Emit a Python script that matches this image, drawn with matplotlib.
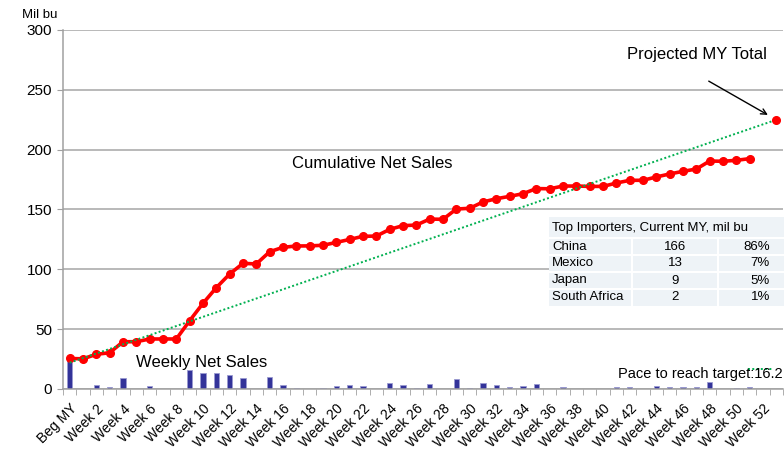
import matplotlib.pyplot as plt
from matplotlib.patches import Rectangle
from matplotlib.lines import Line2D
import numpy as np

plt.rcParams['font.family'] = ['Liberation Sans', 'DejaVu Sans']

# ---- data ----
weeks = ['Beg MY'] + [f'Week {i}' for i in range(1, 54)]
cumulative = [25.5, 25.2, 29.0, 30.3, 39.5, 39.5, 41.8, 41.8, 41.8, 57.1,
              71.6, 84.7, 96.1, 105.0, 104.5, 114.7, 118.4, 119.5, 119.6, 120.1,
              122.5, 125.0, 127.6, 127.8, 133.4, 136.5, 137.0, 142.0, 141.8, 150.4,
              151.0, 156.3, 159.0, 161.0, 163.2, 167.5, 167.3, 169.6, 169.6, 169.3,
              169.3, 172.1, 174.4, 174.4, 177.2, 179.7, 181.9, 183.8, 190.5, 190.3,
              191.1, 192.5]
weekly = [25.0, 0.0, 3.7, 1.7, 8.9, 0.0, 2.5, 0.0, 0.0, 15.9,
          13.6, 13.1, 11.7, 8.9, 0.0, 10.3, 3.6, 1.1, 0.3, 0.5,
          2.2, 3.1, 2.2, 0.3, 5.0, 3.1, 0.5, 4.2, 0.0, 8.1,
          0.5, 5.0, 3.0, 1.7, 2.5, 4.2, 0.0, 1.7, 0.0, 0.0,
          0.0, 2.0, 2.0, 0.0, 2.2, 2.0, 2.0, 2.0, 6.1, 0.3,
          0.8, 1.3]
projected_week = 53
projected_total = 225
pace_start = 22
pace_target = 16.2

importers = ['China', 'Mexico', 'Japan', 'South Africa']
importer_vol = ['166', '13', '9', '2']
importer_pct = ['86%', '7%', '5%', '1%']

W, H = 784, 450
fig = plt.figure(figsize=(W / 100, H / 100), dpi=100)
ax = fig.add_axes([63 / W, 61 / H, 720 / W, 359 / H])


def px(x, y):
    # figure pixel (from top-left) -> figure fraction
    return x / W, 1 - y / H


x_week = np.arange(len(weekly))
x_cum = np.arange(len(cumulative))

# weekly bars
ax.bar(x_week, weekly, width=0.4, color='#333399', edgecolor='#9a9ad0',
       linewidth=0.6, zorder=2)

# cumulative line
ax.plot(x_cum, cumulative, color='#ff0000', lw=2.6, marker='o', ms=5.5, zorder=4)

# pace line to projected total
ax.plot([0, projected_week], [pace_start, projected_total], color='#00b050',
        lw=1.4, linestyle=(0, (1, 1.2)), zorder=5)
ax.plot([projected_week], [projected_total], 'o', color='#ff0000', ms=5.5, zorder=6)

# axes styling
ax.set_xlim(-0.5, len(weeks) - 0.5)
ax.set_ylim(0, 300)
ax.set_yticks(range(0, 301, 50))
ax.grid(axis='y', color='#a6a6a6', lw=1.1, zorder=0)
ax.set_axisbelow(True)
for s in ['top', 'right']:
    ax.spines[s].set_visible(False)
for s in ['left', 'bottom']:
    ax.spines[s].set_color('#a0a0a0')
    ax.spines[s].set_linewidth(1.1)
ax.tick_params(axis='y', labelsize=11, length=4, color='#a0a0a0', pad=4)

ax.set_xticks(range(0, len(weeks), 2))
ax.set_xticklabels(weeks[::2], rotation=45, ha='right', rotation_mode='anchor',
                   fontsize=10)
ax.set_xticks(np.arange(-0.5, len(weeks), 1), minor=True)
ax.tick_params(axis='x', which='major', length=0, pad=9)
ax.tick_params(axis='x', which='minor', length=4, color='#a0a0a0')

# texts
fig.text(*px(40, 15), 'Mil bu', fontsize=9.5, ha='center', va='center')
fig.text(*px(372, 163), 'Cumulative Net Sales', fontsize=12, ha='center', va='center')
fig.text(*px(202, 363), 'Weekly Net Sales', fontsize=12, ha='center', va='center')
fig.text(*px(697, 55), 'Projected MY Total', fontsize=12, ha='center', va='center')
ax.annotate('', xy=(projected_week, projected_total), xytext=(-70, 40),
            textcoords='offset pixels',
            arrowprops=dict(arrowstyle='->', color='black', lw=1, shrinkB=7))

fig.text(*px(783, 374), f'Pace to reach target:{pace_target}', fontsize=10.5,
         ha='right', va='center')
fig.add_artist(Line2D([748 / W, 772 / W], [1 - 369 / H, 1 - 369 / H],
                      color='#00b050', lw=1.4, linestyle=(0, (1, 1.2))))

# importer table
bg = '#eef3f7'
x0, x1, x2, x3 = 549, 632, 718, 790
y_rows = [217, 238, 255, 272, 289, 306]
fig.add_artist(Rectangle(px(x0, y_rows[-1]), (x3 - x0) / W,
                         (y_rows[-1] - y_rows[0]) / H, facecolor=bg,
                         edgecolor='none', zorder=10))
for yy in y_rows[1:-1]:
    fig.add_artist(Line2D([x0 / W, x3 / W], [1 - yy / H] * 2, color='white',
                          lw=1.5, zorder=11))
for xx in [x1, x2]:
    fig.add_artist(Line2D([xx / W] * 2, [1 - y_rows[1] / H, 1 - y_rows[-1] / H],
                          color='white', lw=1.5, zorder=11))
fig.text(*px(552, (y_rows[0] + y_rows[1]) / 2), 'Top Importers, Current MY, mil bu',
         fontsize=9.5, va='center', zorder=12)
for i, name in enumerate(importers):
    yc = (y_rows[i + 1] + y_rows[i + 2]) / 2
    fig.text(*px(552, yc), name, fontsize=9.5, va='center', zorder=12)
    fig.text(*px(675, yc), importer_vol[i], fontsize=9.5, va='center',
             ha='center', zorder=12)
    fig.text(*px(770, yc), importer_pct[i], fontsize=9.5, va='center',
             ha='right', zorder=12)

fig.savefig('out.png', dpi=100)
